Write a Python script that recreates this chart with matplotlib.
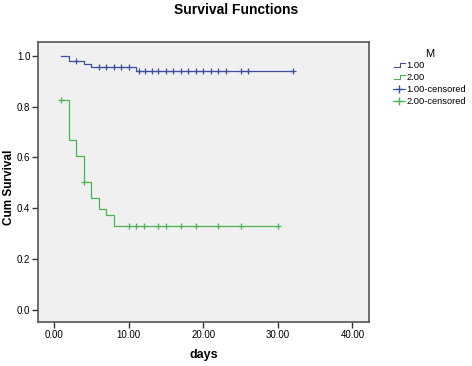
import matplotlib
matplotlib.use("Agg")
import matplotlib.pyplot as plt
from matplotlib.legend_handler import HandlerBase
from matplotlib.lines import Line2D
import numpy as np

plt.rcParams["font.family"] = ["Liberation Sans", "DejaVu Sans"]

# Kaplan-Meier step data
g1_times = [1, 2, 4, 5, 11, 32]
g1_surv = [1.0, 0.978, 0.968, 0.955, 0.94, 0.94]
g1_cens_t = [3, 6, 7, 8, 9, 10, 11.4, 12.2, 13.1, 14, 15, 16, 17, 18, 19, 20, 21,
             22, 23, 25, 26, 32]
g1_cens_s = [0.978] + [0.955] * 5 + [0.94] * 16

g2_times = [1, 2, 3, 4, 5, 6, 7, 8, 30]
g2_surv = [0.826, 0.668, 0.604, 0.502, 0.442, 0.397, 0.373, 0.33, 0.33]
g2_cens_t = [1, 4, 10, 11, 12, 14, 15, 17, 19, 22, 25, 30]
g2_cens_s = [0.826, 0.502] + [0.33] * 10

xticks = [0, 10, 20, 30, 40]
yticks = [0.0, 0.2, 0.4, 0.6, 0.8, 1.0]
legend_labels = ["1.00", "2.00", "1.00-censored", "2.00-censored"]

BLUE = "#3F4F9B"
GREEN = "#4DB356"


class StepHandler(HandlerBase):
    def create_artists(self, legend, orig, xd, yd, w, h, fontsize, trans):
        xs = np.array([0.05, 0.6, 0.6, 1.0]) * w - xd
        ys = np.array([0.25, 0.25, 0.8, 0.8]) * h - yd
        ln = Line2D(xs, ys, color=orig.get_color(), lw=0.8, transform=trans)
        return [ln]


fig = plt.figure(figsize=(4.72, 3.66), dpi=100)
ax = fig.add_axes([0.0805, 0.1202, 0.701, 0.765])
ax.set_facecolor("#F0F0F0")

ax.step(g1_times, g1_surv, where="post", color=BLUE, lw=0.9)
ax.step(g2_times, g2_surv, where="post", color=GREEN, lw=0.9)
ax.plot(g1_cens_t, g1_cens_s, ls="none", marker="+", ms=5, mew=0.9, color=BLUE)
ax.plot(g2_cens_t, g2_cens_s, ls="none", marker="+", ms=5, mew=0.9, color=GREEN)

ax.set_xlim(-2.15, 42.2)
ax.set_ylim(-0.047, 1.054)
ax.set_xticks(xticks)
ax.set_xticklabels([f"{v:.2f}" for v in xticks], fontsize=7)
ax.set_yticks(yticks)
ax.set_yticklabels([f"{v:.1f}" for v in yticks], fontsize=7)
ax.tick_params(direction="out", length=4, width=1, color="#333333", pad=1.5)
for sp in ax.spines.values():
    sp.set_color("#555555")
    sp.set_linewidth(1.2)

ax.set_xlabel("days", fontsize=9, fontweight="bold", labelpad=7)
ax.set_ylabel("Cum Survival", fontsize=8.5, fontweight="bold")
ax.yaxis.set_label_coords(-0.07, 0.48)
fig.text(0.5, 0.972, "Survival Functions", ha="center", va="center",
         fontsize=10, fontweight="bold")

h1 = Line2D([], [], color=BLUE)
h2 = Line2D([], [], color=GREEN)
h3 = Line2D([], [], color=BLUE, marker="+", ms=6, lw=0.8)
h4 = Line2D([], [], color=GREEN, marker="+", ms=6, lw=0.8)
leg = fig.legend([h1, h2, h3, h4], legend_labels, loc="upper left",
                 bbox_to_anchor=(0.815, 0.89), frameon=False, fontsize=6.7,
                 title="M", title_fontsize=8, handlelength=1.3,
                 handletextpad=0.15, labelspacing=0.3,
                 handler_map={h1: StepHandler(), h2: StepHandler()})

fig.savefig("out.png", dpi=100)
